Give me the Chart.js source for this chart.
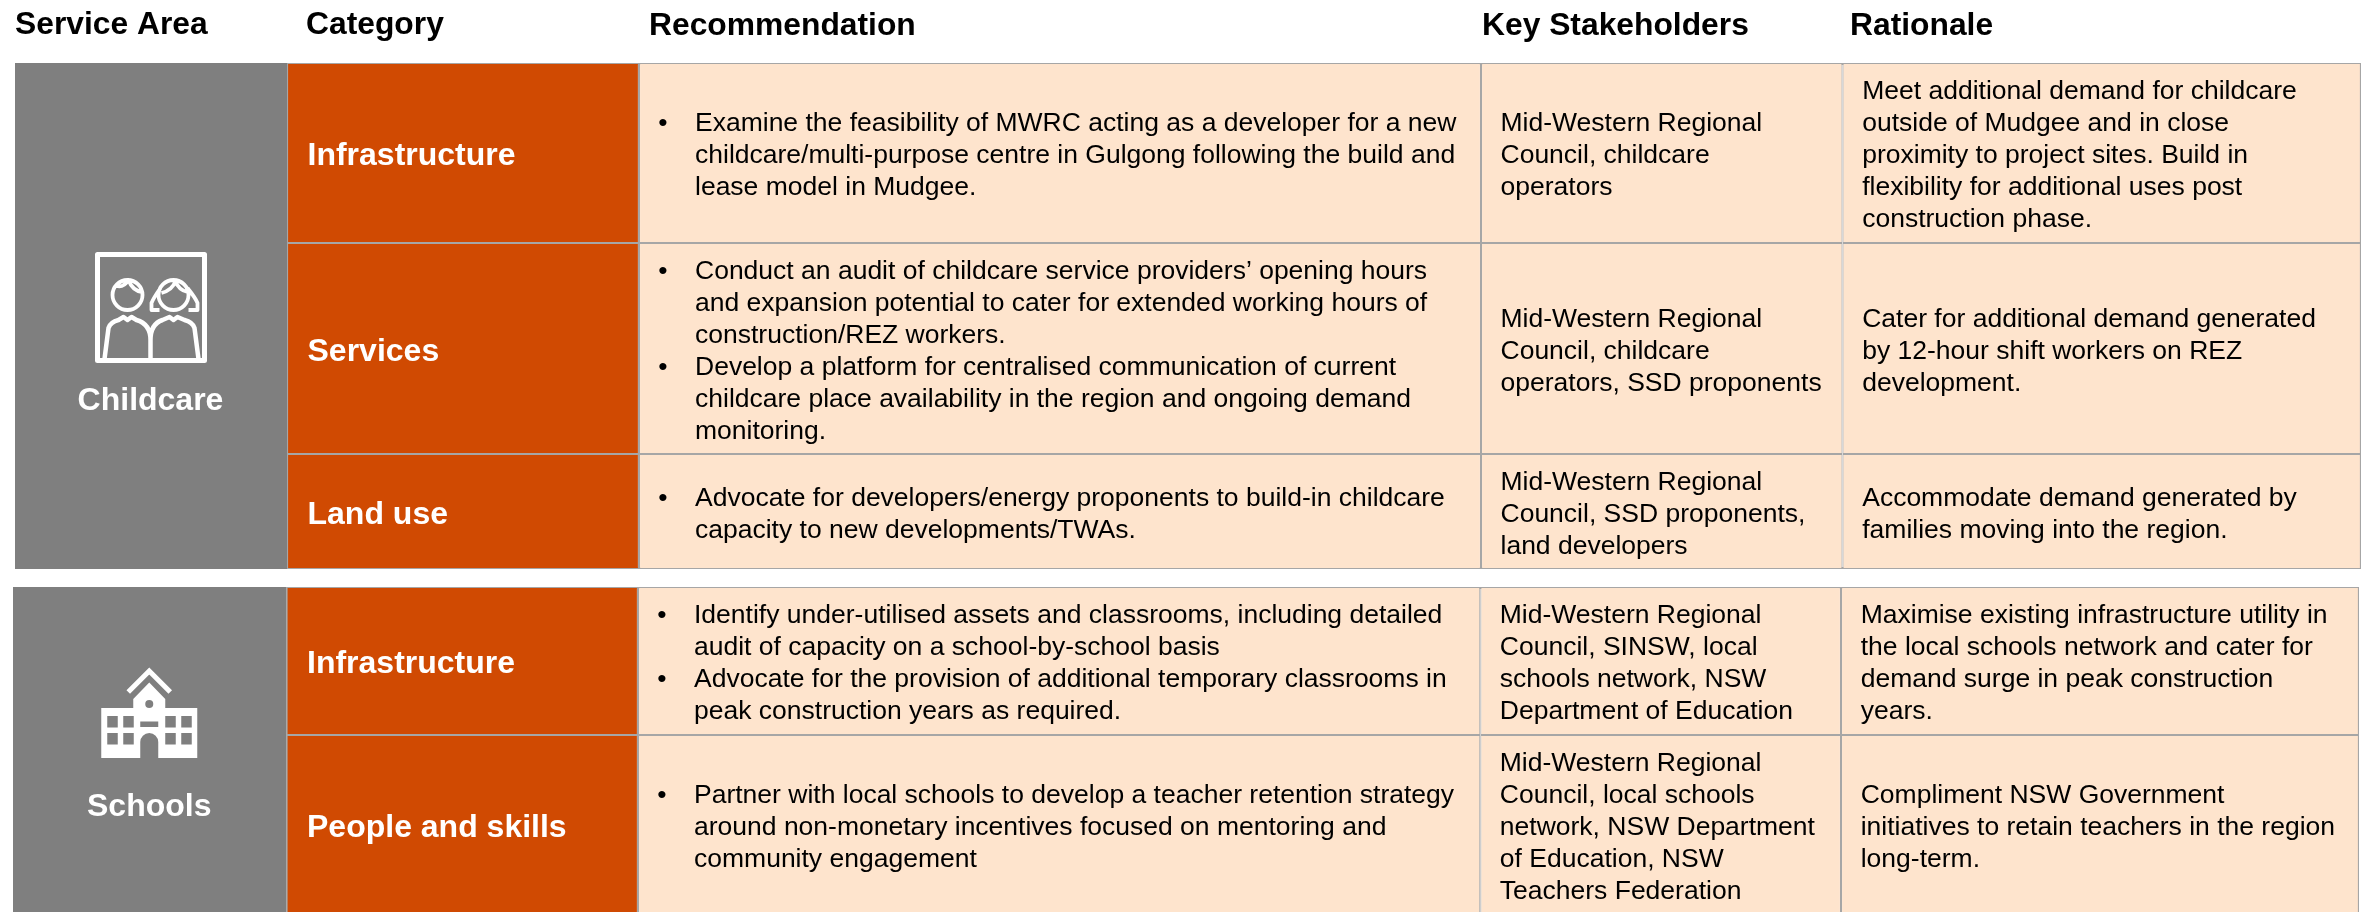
<!DOCTYPE html>
<html>
<head>
<meta charset="utf-8">
<title>Service area recommendations</title>
<script src="https://cdn.jsdelivr.net/npm/chart.js@4/dist/chart.umd.js"></script>
<style>
  html, body { margin: 0; padding: 0; background: #fff; overflow: hidden; }
  #wrap { width: 2369px; height: 912px; }
</style>
</head>
<body>
<div id="wrap"><canvas id="table" width="2369" height="912"></canvas></div>
<script>
// ---------------------------------------------------------------------------
// Content
// ---------------------------------------------------------------------------
const columnHeaders = ["Service Area", "Category", "Recommendation", "Key Stakeholders", "Rationale"];
const serviceAreas = ["Childcare", "Schools"];
const categories = ["Infrastructure", "Services", "Land use", "Infrastructure", "People and skills"];

// "• " marks the first line of a bullet
const recommendations = [
  ["• Examine the feasibility of MWRC acting as a developer for a new",
   "childcare/multi-purpose centre in Gulgong following the build and",
   "lease model in Mudgee."],
  ["• Conduct an audit of childcare service providers’ opening hours",
   "and expansion potential to cater for extended working hours of",
   "construction/REZ workers.",
   "• Develop a platform for centralised communication of current",
   "childcare place availability in the region and ongoing demand",
   "monitoring."],
  ["• Advocate for developers/energy proponents to build-in childcare",
   "capacity to new developments/TWAs."],
  ["• Identify under-utilised assets and classrooms, including detailed",
   "audit of capacity on a school-by-school basis",
   "• Advocate for the provision of additional temporary classrooms in",
   "peak construction years as required."],
  ["• Partner with local schools to develop a teacher retention strategy",
   "around non-monetary incentives focused on mentoring and",
   "community engagement"],
];

const stakeholders = [
  ["Mid-Western Regional", "Council, childcare", "operators"],
  ["Mid-Western Regional", "Council, childcare", "operators, SSD proponents"],
  ["Mid-Western Regional", "Council, SSD proponents,", "land developers"],
  ["Mid-Western Regional", "Council, SINSW, local", "schools network, NSW", "Department of Education"],
  ["Mid-Western Regional", "Council, local schools", "network, NSW Department", "of Education, NSW", "Teachers Federation"],
];

const rationales = [
  ["Meet additional demand for childcare", "outside of Mudgee and in close", "proximity to project sites. Build in",
   "flexibility for additional uses post", "construction phase."],
  ["Cater for additional demand generated", "by 12-hour shift workers on REZ", "development."],
  ["Accommodate demand generated by", "families moving into the region."],
  ["Maximise existing infrastructure utility in", "the local schools network and cater for",
   "demand surge in peak construction", "years."],
  ["Compliment NSW Government", "initiatives to retain teachers in the region", "long-term."],
];

// ---------------------------------------------------------------------------
// Grid, in scale units (1 unit = 1 px)
// ---------------------------------------------------------------------------
const blockCols = [
  [15, 287, 639, 1481, 1842.5, 2361],
  [13, 286.5, 638, 1480.3, 1841, 2359],
];
const blockSpan = [[63, 569], [587, 914]];
const rowBlock = [0, 0, 0, 1, 1];
const rowEdges = [[63, 243], [243, 454], [454, 569], [587, 735], [735, 914]];

const GREY = "#7f7f7f";
const ORANGE = "#d04a02";
const PEACH = "#fee4cd";
const RULE = "#a6a6a6";
const FONT = '"Liberation Sans", Arial, sans-serif';
const LINE = 32;

// Bars here have their own top and bottom, a bar chart only gives them one width
class CellController extends Chart.BarController {
  _calculateBarIndexPixels(index) {
    const { y0, y1 } = this.getDataset().data[index];
    const scale = this._cachedMeta.iScale;
    const base = scale.getPixelForValue(y0);
    const head = scale.getPixelForValue(y1);
    return { base, head, center: (base + head) / 2, size: head - base };
  }
}
CellController.id = "cell";
Chart.register(CellController);

const cell = (x0, x1, y0, y1) => ({ x: [x0, x1], y: (y0 + y1) / 2, y0, y1 });

const columnDataset = (col, fill) => ({
  label: columnHeaders[col],
  data: categories.map((_, r) => {
    const cols = blockCols[rowBlock[r]];
    return cell(cols[col], cols[col + 1], rowEdges[r][0], rowEdges[r][1]);
  }),
  backgroundColor: fill,
  borderColor: RULE,
  borderWidth: 1.1,
  borderSkipped: false,
  inflateAmount: 0,
});

const datasets = [
  {
    label: columnHeaders[0],
    data: serviceAreas.map((_, b) => cell(blockCols[b][0], blockCols[b][1], blockSpan[b][0], blockSpan[b][1])),
    backgroundColor: GREY,
    borderWidth: 0,
    borderSkipped: false,
    inflateAmount: 0,
  },
  columnDataset(1, ORANGE),
  columnDataset(2, PEACH),
  columnDataset(3, PEACH),
  columnDataset(4, PEACH),
  {
    // outer frame of each block, heavier than the inner rules
    label: "frame",
    data: serviceAreas.map((_, b) => cell(blockCols[b][1], blockCols[b][5], blockSpan[b][0], blockSpan[b][1])),
    backgroundColor: "transparent",
    borderColor: RULE,
    borderWidth: 2,
    borderSkipped: false,
    inflateAmount: 0,
  },
];

// ---------------------------------------------------------------------------
// Icons, drawn around the centre of the grey column
// ---------------------------------------------------------------------------
function drawChildcareIcon(ctx) {
  ctx.strokeStyle = "#fff";
  ctx.fillStyle = "#fff";
  ctx.lineJoin = "round";
  ctx.lineWidth = 5;
  ctx.strokeRect(-53, 254.5, 107, 106);

  ctx.lineWidth = 3.8;
  // boy
  ctx.beginPath();
  ctx.arc(-23, 295, 15, 0, Math.PI * 2);
  ctx.moveTo(-34, 286);
  ctx.quadraticCurveTo(-27, 288, -22, 280);
  ctx.quadraticCurveTo(-18, 291, -8, 292);
  ctx.stroke();
  // girl
  ctx.beginPath();
  ctx.arc(23, 295, 15, 0, Math.PI * 2);
  ctx.moveTo(11, 293);
  ctx.quadraticCurveTo(22, 290, 25, 281);
  ctx.quadraticCurveTo(28, 290, 37, 292);
  ctx.moveTo(10, 288);
  ctx.quadraticCurveTo(3, 298, 1, 303);
  ctx.lineTo(1, 310);
  ctx.lineTo(9, 310);
  ctx.moveTo(37, 288);
  ctx.quadraticCurveTo(45, 298, 47, 303);
  ctx.lineTo(47, 310);
  ctx.lineTo(38, 310);
  ctx.stroke();
  // shoulders
  ctx.lineWidth = 4.5;
  ctx.beginPath();
  ctx.moveTo(-46, 359);
  ctx.lineTo(-42, 328);
  ctx.quadraticCurveTo(-40, 322, -32, 320);
  ctx.lineTo(-27, 317);
  ctx.lineTo(-23, 320);
  ctx.lineTo(-19, 317);
  ctx.lineTo(-14, 320);
  ctx.quadraticCurveTo(0, 324, 0, 340);
  ctx.lineTo(0, 359);
  ctx.moveTo(0, 340);
  ctx.quadraticCurveTo(0, 324, 12, 320);
  ctx.lineTo(19, 317);
  ctx.lineTo(23, 320);
  ctx.lineTo(27, 317);
  ctx.lineTo(34, 320);
  ctx.quadraticCurveTo(42, 322, 44, 328);
  ctx.lineTo(48, 359);
  ctx.stroke();
}

function drawSchoolIcon(ctx) {
  ctx.fillStyle = "#fff";
  ctx.strokeStyle = "#fff";
  // chevron over the roof
  ctx.lineWidth = 5;
  ctx.lineJoin = "miter";
  ctx.beginPath();
  ctx.moveTo(-21, 692);
  ctx.lineTo(0, 671);
  ctx.lineTo(21, 692);
  ctx.stroke();
  // tower and main block
  ctx.beginPath();
  ctx.moveTo(0, 682.5);
  ctx.lineTo(16, 699);
  ctx.lineTo(16, 708);
  ctx.lineTo(48, 708);
  ctx.lineTo(48, 758);
  ctx.lineTo(9, 758);
  ctx.lineTo(9, 742);
  ctx.arc(0, 742, 9, 0, Math.PI, true);
  ctx.lineTo(-9, 758);
  ctx.lineTo(-48, 758);
  ctx.lineTo(-48, 708);
  ctx.lineTo(-16, 708);
  ctx.lineTo(-16, 699);
  ctx.closePath();
  ctx.fill();
  // windows
  ctx.fillStyle = GREY;
  [-42, -26, 16, 32].forEach(x => {
    ctx.fillRect(x, 716, 10.5, 11.5);
    ctx.fillRect(x, 733, 10.5, 11.5);
  });
  ctx.fillRect(-9, 721.5, 18, 5.5);
  ctx.beginPath();
  ctx.arc(0, 704, 4, 0, Math.PI * 2);
  ctx.fill();
}

// ---------------------------------------------------------------------------
// Text plugin
// ---------------------------------------------------------------------------
const tablePlugin = {
  id: "tableText",
  afterDatasetsDraw(chart) {
    const { ctx, scales: { x, y } } = chart;
    const put = (text, vx, vy, align = "left") => {
      ctx.textAlign = align;
      ctx.fillText(text, x.getPixelForValue(vx), y.getPixelForValue(vy));
    };
    ctx.save();
    ctx.textBaseline = "alphabetic";

    // column headers
    const headerX = [15, 306, 649, 1482, 1850];
    const headerY = [33.5, 33.5, 35, 35, 35];
    ctx.fillStyle = "#000";
    ctx.font = `bold 31.8px ${FONT}`;
    columnHeaders.forEach((h, i) => put(h, headerX[i], headerY[i]));

    // service areas and their icons
    const serviceY = [409.5, 816];
    const centre = b => (blockCols[b][0] + blockCols[b][1]) / 2 - 0.5;
    ctx.fillStyle = "#fff";
    ctx.font = `bold 32px ${FONT}`;
    serviceAreas.forEach((name, b) => put(name, centre(b), serviceY[b], "center"));
    [drawChildcareIcon, drawSchoolIcon].forEach((draw, b) => {
      ctx.save();
      ctx.translate(x.getPixelForValue(centre(b)), 0);
      draw(ctx);
      ctx.restore();
    });

    // category labels
    ctx.fillStyle = "#fff";
    ctx.font = `bold 32px ${FONT}`;
    categories.forEach((name, r) => {
      const mid = (rowEdges[r][0] + rowEdges[r][1]) / 2;
      put(name, blockCols[rowBlock[r]][1] + 20.5, mid + 12);
    });

    // body columns, lines centred in the row
    ctx.fillStyle = "#000";
    ctx.font = `26.5px ${FONT}`;
    const block = (lines, r, left, bulletLeft) => {
      const mid = (rowEdges[r][0] + rowEdges[r][1]) / 2;
      lines.forEach((line, i) => {
        const by = mid + 10 + (i - (lines.length - 1) / 2) * LINE;
        if (line.startsWith("• ")) {
          put("•", bulletLeft, by, "center");
          put(line.slice(2), left, by);
        } else {
          put(line, left, by);
        }
      });
    };
    categories.forEach((_, r) => {
      const cols = blockCols[rowBlock[r]];
      block(recommendations[r], r, cols[2] + 56, cols[2] + 24);
      block(stakeholders[r], r, cols[3] + 19.5);
      block(rationales[r], r, cols[4] + 19.7);
    });
    ctx.restore();
  },
};

new Chart(document.getElementById("table"), {
  type: "cell",
  data: { labels: categories, datasets },
  options: {
    indexAxis: "y",
    responsive: false,
    animation: false,
    layout: { padding: 0 },
    plugins: { legend: { display: false }, tooltip: { enabled: false } },
    scales: {
      x: { type: "linear", min: 0, max: 2369, display: false, offset: false },
      y: { type: "linear", min: 0, max: 912, reverse: true, display: false, offset: false },
    },
  },
  plugins: [tablePlugin],
});
</script>
</body>
</html>
